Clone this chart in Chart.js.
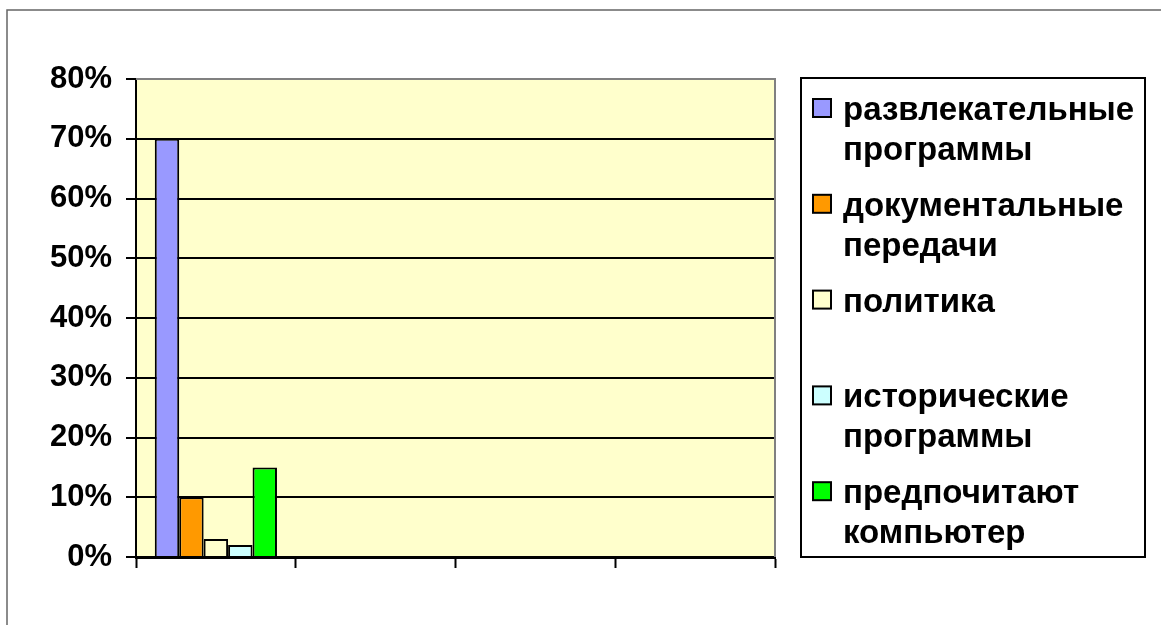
<!DOCTYPE html>
<html>
<head>
<meta charset="utf-8">
<script src="https://cdn.jsdelivr.net/npm/chart.js@4.4.1/dist/chart.umd.min.js"></script>
<style>
  html, body { margin: 0; padding: 0; background: #fff; }
  canvas { display: block; }
</style>
</head>
<body>
<canvas id="myChart" width="1161" height="625"></canvas>
<script>
// categories on the x axis (Excel left them unlabeled)
const categories = ['', '', '', ''];

// one series per TV preference, values in percent
const seriesNames = ['развлекательные программы', 'документальные передачи', 'политика', 'исторические программы', 'предпочитают компьютер'];
const legendLines = [['развлекательные', 'программы'], ['документальные', 'передачи'], ['политика'], ['исторические', 'программы'], ['предпочитают', 'компьютер']];
const entertainment = [70, null, null, null];
const documentary = [10, null, null, null];
const politics = [3, null, null, null];
const historical = [2, null, null, null];
const computer = [15, null, null, null];
const seriesColors = ['#9999FF', '#FF9900', '#FFFFCC', '#CCFFFF', '#00FF00'];

const yMin = 0, yMax = 80, yStep = 10;

const FONT = '"Liberation Sans", Arial, sans-serif';

// white page, outer frame and yellow plot background
const background = {
  id: 'background',
  beforeDraw(chart) {
    const {ctx, chartArea: a} = chart;
    ctx.save();
    ctx.fillStyle = '#fff';
    ctx.fillRect(0, 0, chart.width, chart.height);
    ctx.strokeStyle = '#666';
    ctx.lineWidth = 1.5;
    ctx.beginPath();
    ctx.moveTo(7, chart.height);
    ctx.lineTo(7, 10);
    ctx.lineTo(chart.width, 10);
    ctx.stroke();
    ctx.fillStyle = '#FFFFCC';
    ctx.fillRect(a.left, a.top, a.right - a.left, a.bottom - a.top);
    ctx.restore();
  },
  afterDatasetsDraw(chart) {
    const {ctx, chartArea: a} = chart;
    ctx.save();
    ctx.strokeStyle = '#808080';
    ctx.lineWidth = 2;
    ctx.beginPath();
    ctx.moveTo(a.left, a.top);
    ctx.lineTo(a.right, a.top);
    ctx.lineTo(a.right, a.bottom);
    ctx.stroke();
    ctx.restore();
  }
};

// boxed legend on the right with two-line labels
const legendBox = {
  id: 'legendBox',
  afterDraw(chart) {
    const {ctx, chartArea: a} = chart;
    const left = a.right + 26, right = chart.width - 16;
    const top = a.top - 1, bottom = a.bottom;
    const itemH = (bottom - top) / chart.data.datasets.length;
    ctx.save();
    ctx.lineWidth = 2;
    ctx.strokeStyle = '#000';
    ctx.strokeRect(left, top, right - left, bottom - top);
    ctx.font = 'bold 33px ' + FONT;
    ctx.textBaseline = 'alphabetic';
    ctx.fillStyle = '#000';
    chart.data.datasets.forEach((ds, i) => {
      const base = top + 42 + i * itemH;
      ctx.fillStyle = ds.backgroundColor;
      ctx.fillRect(left + 12, base - 21, 18, 18);
      ctx.lineWidth = 2;
      ctx.strokeRect(left + 12, base - 21, 18, 18);
      ctx.fillStyle = '#000';
      legendLines[i].forEach((line, j) => ctx.fillText(line, left + 42, base + j * 40));
    });
    ctx.restore();
  }
};

const config = {
  type: 'bar',
  data: {
    labels: categories,
    datasets: [entertainment, documentary, politics, historical, computer].map((d, i) => ({
      label: seriesNames[i],
      data: d,
      backgroundColor: seriesColors[i],
      borderColor: '#000',
      borderWidth: 2,
      categoryPercentage: 0.765,
      barPercentage: 1.0
    }))
  },
  options: {
    responsive: false,
    animation: false,
    layout: {padding: {left: 0, top: 79, right: 386, bottom: 0}},
    plugins: {legend: {display: false}, tooltip: {enabled: false}},
    scales: {
      x: {
        grid: {display: true, drawOnChartArea: false, offset: true, tickLength: 11, tickColor: '#000', tickWidth: 2},
        border: {color: '#000', width: 3},
        ticks: {display: false},
        afterFit: s => { s.height = 68; }
      },
      y: {
        min: yMin,
        max: yMax,
        grid: {
          color: c => c.tick.value === yMax ? '#808080' : '#000',
          lineWidth: 2,
          tickLength: 10,
          tickColor: '#000',
          tickWidth: 2
        },
        border: {color: '#000', width: 2},
        ticks: {
          stepSize: yStep,
          padding: 14,
          color: '#000',
          font: {family: FONT, size: 31, weight: 'bold'},
          callback: v => v + '%'
        },
        afterFit: s => { s.width = 136; }
      }
    }
  },
  plugins: [background, legendBox]
};

const chart = new Chart(document.getElementById('myChart'), config);
</script>
</body>
</html>
